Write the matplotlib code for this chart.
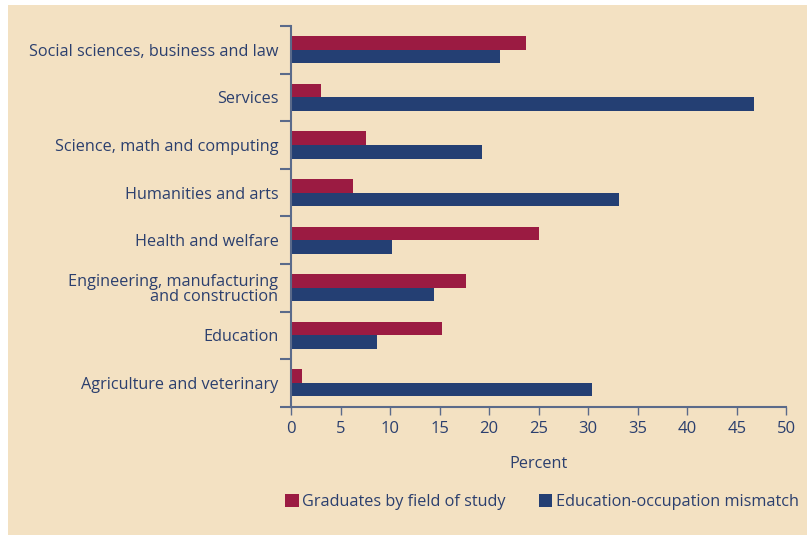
import matplotlib.pyplot as plt
import matplotlib.patches as patches
import numpy as np

# --- data ---
categories = ["Social sciences, business and law", "Services",
              "Science, math and computing", "Humanities and arts",
              "Health and welfare", "Engineering, manufacturing\nand construction",
              "Education", "Agriculture and veterinary"]
graduates = [23.7, 3.0, 7.6, 6.3, 25.0, 17.7, 15.2, 1.1]
mismatch = [21.1, 46.7, 19.3, 33.1, 10.2, 14.4, 8.7, 30.4]
series_names = ["Graduates by field of study", "Education-occupation mismatch"]
xticks = np.arange(0, 55, 5)

bg = '#F3E1C2'
red = '#9B1B42'
blue = '#243F73'
txt = '#2B3F6E'
axcol = '#5A6A8A'

plt.rcParams['font.family'] = ['Open Sans', 'DejaVu Sans']

fig = plt.figure(figsize=(8.07, 5.35), dpi=100, facecolor='white')
fig.patches.append(patches.Rectangle((8 / 807, 0), 1, 1 - 5 / 535,
                                     transform=fig.transFigure, facecolor=bg,
                                     edgecolor='none', zorder=-10))

ax = fig.add_axes([291 / 807, 1 - 406.7 / 535, (786.3 - 291) / 807, (406.7 - 26) / 535])
ax.patch.set_alpha(0)

n = len(categories)
y = np.arange(n)
h = 0.285
ax.barh(y - h / 2, graduates, height=h, color=red, label=series_names[0])
ax.barh(y + h / 2, mismatch, height=h, color=blue, label=series_names[1])

ax.set_ylim(n - 0.5, -0.5)
ax.set_xlim(0, 50)
ax.set_yticks(y)
ax.set_yticklabels(categories, fontsize=11.7, color=txt, linespacing=0.95,
                   multialignment='right')
ax.set_yticks(np.arange(n + 1) - 0.5, minor=True)
ax.tick_params(axis='y', which='major', length=0, pad=9)
ax.tick_params(axis='y', which='minor', length=8, width=1.5, color=axcol)
ax.set_xticks(xticks)
ax.set_xticklabels([str(v) for v in xticks], fontsize=12, color=txt)
ax.tick_params(axis='x', length=6, width=1, color=axcol, pad=4)

for s in ['top', 'right']:
    ax.spines[s].set_visible(False)
for s in ['left', 'bottom']:
    ax.spines[s].set_color(axcol)
    ax.spines[s].set_linewidth(1.5)

ax.set_xlabel("Percent", fontsize=11.7, color=txt, labelpad=14)

leg = fig.legend(loc='center', bbox_to_anchor=(542 / 807, 1 - 502 / 535), ncol=2,
                 frameon=False, fontsize=11.7, handlelength=0.85, handleheight=0.85,
                 handletextpad=0.2, columnspacing=2.0)
for t in leg.get_texts():
    t.set_color(txt)

fig.savefig('out.png', dpi=100, facecolor='white')
